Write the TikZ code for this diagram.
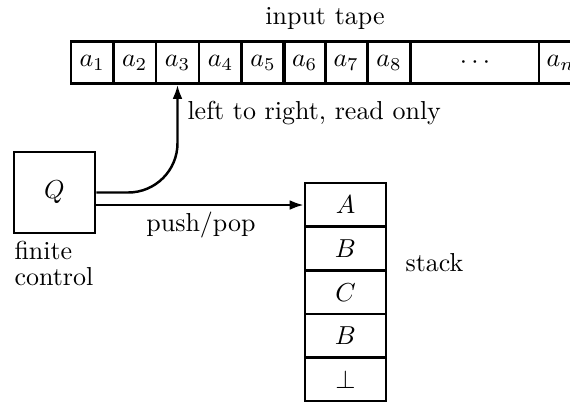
\documentclass[tikz,border=0pt]{standalone}
\usetikzlibrary{arrows.meta}
\begin{document}
\begin{tikzpicture}[x=0.385pt,y=-0.385pt,
  box/.style={draw,line width=1pt,inner sep=0pt,minimum height=16.2pt},
  tcell/.style={box,minimum width=16.4pt},
  scell/.style={box,minimum width=31.2pt,minimum height=16.8pt},
  conn/.style={line width=0.95pt,-{Latex[length=5.4pt,width=3.8pt]}},
  lbl/.style={inner sep=0pt}]
\useasboundingbox (0,0) rectangle (570,401);
\begin{scope}
\clip (0,0) rectangle (570,401);
% tape
\node[tcell] (a1) at (92.2,62.5) {$a_1$};
\node[tcell] (a2) at (134.7,62.5) {$a_2$};
\node[tcell] (a3) at (177.5,62.5) {$a_3$};
\node[tcell] (a4) at (220.5,62.5) {$a_4$};
\node[tcell] (a5) at (263,62.5) {$a_5$};
\node[tcell] (a6) at (304.7,62.5) {$a_6$};
\node[tcell] (a7) at (346.2,62.5) {$a_7$};
\node[tcell] (a8) at (389,62.5) {$a_8$};
\node[box,minimum width=49.3pt] (dots) at (475,62.5) {$\cdots$};
\node[tcell] (an) at (560.5,62.5) {$a_n$};
% stack
\node[scell] (s1) at (345.5,205) {$A$};
\node[scell] (s2) at (345.5,248.6) {$B$};
\node[scell] (s3) at (345.5,292.2) {$C$};
\node[scell] (s4) at (345.5,335.8) {$B$};
\node[scell] (s5) at (345.5,379.4) {$\bot$};
\end{scope}
% finite control
\node[box,minimum width=31.2pt,minimum height=31.2pt] (Q) at (54.5,192.5) {$Q$};
% labels
\node[lbl] (tapelbl) at (325,18) {input tape};
\node[lbl,anchor=west] (lrlbl) at (187,113) {left to right, read only};
\node[lbl] (pplbl) at (201,225) {push/pop};
\node[lbl,anchor=north west,align=left] (fclbl) at (14,241) {finite\\[-2pt]control};
\node[lbl,anchor=west] (stlbl) at (405,263) {stack};
% connectors
\draw[conn,rounded corners=19pt] (Q.east) -| (a3.south);
\draw[conn] (Q.east |- s1.west) -- (s1.west);
\end{tikzpicture}
\end{document}
